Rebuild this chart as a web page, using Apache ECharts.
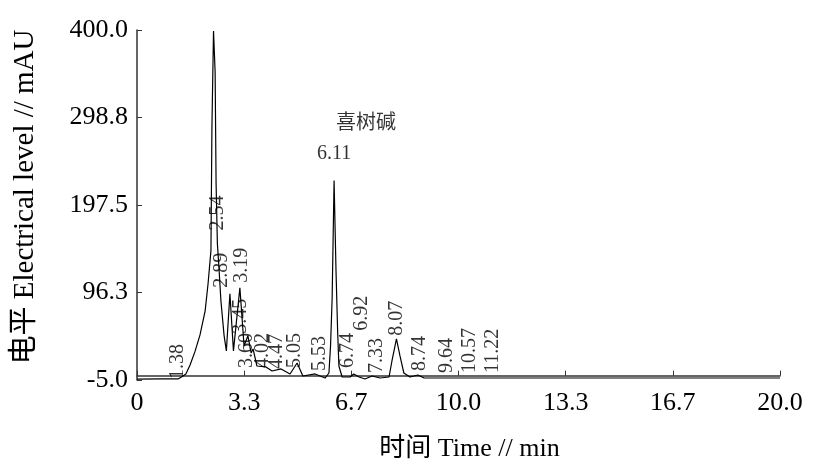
<!DOCTYPE html>
<html>
<head>
<meta charset="utf-8">
<script src="https://cdn.jsdelivr.net/npm/echarts@6/dist/echarts.min.js"></script>
<style>
  html, body { margin: 0; padding: 0; background: #fff; }
  #chart { width: 815px; height: 465px; }
</style>
</head>
<body>
<div id="chart"></div>
<script>
// HPLC 色谱图：喜树碱出峰 6.11 min

const timeMin = [
  0, 0.72, 1.28, 1.43, 1.52, 1.65, 1.80, 1.96, 2.12, 2.21, 2.30, 2.33, 2.38, 2.43, 2.46,
  2.50, 2.54, 2.61, 2.71, 2.78, 2.89, 3.00, 3.05, 3.20, 3.33, 3.45, 3.55, 3.61, 3.73,
  4.01, 4.20, 4.48, 4.76, 4.98, 5.16, 5.54, 5.85, 5.97, 6.02, 6.07, 6.13, 6.19, 6.24,
  6.28, 6.38, 6.63, 6.74, 6.91, 7.09, 7.31, 7.56, 7.84, 7.93, 8.07, 8.18, 8.30, 8.49,
  8.74, 8.93, 20
]
const signalMAU = [
  -4.0, -3.8, -3.8, -0.4, 2.0, 12.4, 27.5, 47.2, 75.1, 106.4, 144.7, 286.3, 398.9, 351.3, 222.5,
  152.8, 130.8, 86.7, 46.1, 28.7, 94.8, 28.7, 31.0, 101.8, 34.5, 46.1, 26.3, 31.0, 11.2,
  10.1, 5.4, 7.8, 2.0, 14.7, -0.4, 2.0, -2.7, 3.1, 34.5, 90.2, 225.9, 121.5, 51.9,
  11.2, -1.5, -1.5, 2.0, -1.5, -3.8, -0.4, -2.7, -1.5, 17.0, 42.6, 22.9, 3.1, -1.5,
  0.8, -2.7, -2.7
]

// 峰标注：保留时间文字、标注底部所在位置（数据坐标）
const peakNames = ['1.38', '2.54', '2.89', '3.19', '3.45', '3.60', '4.02', '4.47', '5.05',
  '5.53', '6.74', '6.92', '7.33', '8.07', '8.74', '9.64', '10.57', '11.22']
const peakLabelX = [1.28, 2.52, 2.64, 3.27, 3.22, 3.42, 3.92, 4.35, 4.91,
  5.69, 6.56, 7.0, 7.47, 8.09, 8.80, 9.64, 10.36, 11.07]
const peakLabelY = [-3.8, 168, 101.8, 107.6, 48.4, 8.9, 8.9, 7.8, 8.9,
  5.4, 8.9, 51.9, 3.1, 46.1, 5.4, 3.1, 3.1, 3.1]

const mainPeakText = ['6.11', '喜树碱']
const mainPeakX = [6.13, 7.12]
const mainPeakY = [257, 292]

const xTickValues = [0, 10 / 3, 20 / 3, 10, 40 / 3, 50 / 3, 20]
const xTickLabels = ['0', '3.3', '6.7', '10.0', '13.3', '16.7', '20.0']
const yTickValues = [-5, 96.25, 197.5, 298.75, 400]
const yTickLabels = ['-5.0', '96.3', '197.5', '298.8', '400.0']

const FONT = '"Liberation Serif", "Noto Sans CJK SC", serif'

function nearestLabel(values, labels, v) {
  let best = 0
  values.forEach((x, i) => {
    if (Math.abs(x - v) < Math.abs(values[best] - v)) best = i
  })
  return labels[best]
}

const chart = echarts.init(document.getElementById('chart'), null, { renderer: 'canvas' })

chart.setOption({
  backgroundColor: '#fff',
  animation: false,
  grid: { left: 137, right: 35, top: 30, bottom: 85, outerBoundsMode: 'none' },
  xAxis: {
    type: 'value',
    min: 0,
    max: 20,
    name: '时间 Time // min',
    nameLocation: 'middle',
    nameGap: 56,
    nameTextStyle: { fontFamily: FONT, fontSize: 26, color: '#000', padding: [0, 0, 0, 22] },
    axisLine: { lineStyle: { color: '#333', width: 1.5 } },
    axisTick: { inside: true, length: 5, customValues: xTickValues, lineStyle: { color: '#333' } },
    axisLabel: {
      customValues: xTickValues,
      margin: 10,
      fontFamily: FONT,
      fontSize: 26,
      color: '#000',
      formatter: (v) => nearestLabel(xTickValues, xTickLabels, v),
    },
    splitLine: { show: false },
  },
  yAxis: {
    type: 'value',
    min: -5,
    max: 400,
    name: '电平 Electrical level // mAU',
    nameLocation: 'middle',
    nameGap: 97,
    nameRotate: 90,
    nameTextStyle: { fontFamily: FONT, fontSize: 29, color: '#000', padding: [0, 0, 0, 16] },
    axisLine: { show: true, lineStyle: { color: '#333', width: 1.5 } },
    axisTick: { show: true, inside: true, length: 5, customValues: yTickValues, lineStyle: { color: '#333' } },
    axisLabel: {
      customValues: yTickValues,
      margin: 9,
      fontFamily: FONT,
      fontSize: 26,
      color: '#000',
      formatter: (v) => nearestLabel(yTickValues, yTickLabels, v),
    },
    splitLine: { show: false },
  },
  series: [
    {
      type: 'line',
      data: timeMin.map((t, i) => [t, signalMAU[i]]),
      symbol: 'none',
      lineStyle: { color: '#000', width: 1.2 },
      z: 3,
    },
    {
      type: 'scatter',
      symbolSize: 0,
      data: peakNames.map((name, i) => ({ value: [peakLabelX[i], peakLabelY[i]], name })),
      label: {
        show: true,
        position: [0, 0],
        rotate: 90,
        align: 'left',
        verticalAlign: 'middle',
        formatter: (p) => p.name,
        fontFamily: FONT,
        fontSize: 20,
        color: '#000',
      },
      z: 4,
      silent: true,
    },
    {
      type: 'scatter',
      symbolSize: 0,
      data: mainPeakText.map((name, i) => ({ value: [mainPeakX[i], mainPeakY[i]], name })),
      label: {
        show: true,
        position: [0, 0],
        align: 'center',
        verticalAlign: 'middle',
        formatter: (p) => p.name,
        fontFamily: FONT,
        fontSize: 20,
        color: '#000',
      },
      z: 4,
      silent: true,
    },
  ],
})
</script>
</body>
</html>
